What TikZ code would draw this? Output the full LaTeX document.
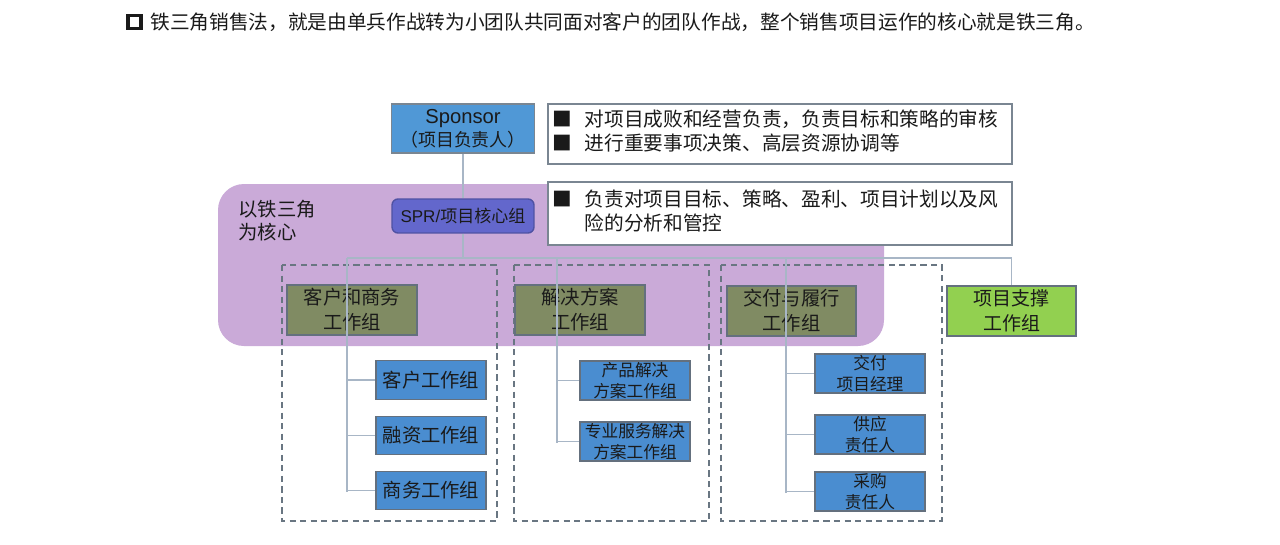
\documentclass[tikz,border=0pt]{standalone}
\usepackage{fontspec}
\setmainfont{Noto Sans CJK SC}
\newfontfamily\lat{Liberation Sans}
\definecolor{purp}{RGB}{202,170,216}
\definecolor{olive}{RGB}{128,139,99}
\definecolor{subblue}{RGB}{74,141,208}
\definecolor{spblue}{RGB}{80,152,214}
\definecolor{sprblue}{RGB}{99,103,204}
\definecolor{supgreen}{RGB}{146,208,80}
\definecolor{boxline}{RGB}{100,112,126}
\definecolor{tbline}{RGB}{122,134,146}
\definecolor{connc}{RGB}{168,182,198}
\definecolor{dashc}{RGB}{105,118,130}
\definecolor{txt}{RGB}{26,26,26}
\begin{document}
\begin{tikzpicture}[x=0.02cm,y=-0.02cm,
  every node/.style={text=txt},
  box/.style={draw=boxline, line width=0.8pt, inner sep=0pt, align=center},
  grpbox/.style={box, fill=olive, minimum width=2.6cm, minimum height=1.0cm, font=\fontsize{11}{14.2}\selectfont},
  subbox/.style={box, fill=subblue, minimum width=2.2cm, minimum height=0.77cm, font=\fontsize{11}{13}\selectfont},
  subsmall/.style={subbox, font=\fontsize{9.5}{11.6}\selectfont},
  tbox/.style={draw=tbline, line width=0.9pt, fill=white, inner xsep=0.08cm, inner ysep=0pt,
    minimum width=9.28cm, text width=9.12cm, align=left, font=\fontsize{11.2}{13.6}\selectfont},
  conn/.style={draw=connc, line width=0.65pt},
  dashbox/.style={draw=dashc, line width=0.8pt, dash pattern=on 3.5pt off 2.5pt}
]
\useasboundingbox (0,0) rectangle (1280,544);
\fill[white] (0,0) rectangle (1280,544);

% header
\node[draw=txt, line width=2pt, minimum size=0.26cm, inner sep=0pt] (sq) at (134.5,22) {};
\node[anchor=west, inner sep=0pt, font=\fontsize{11.2}{13}\selectfont] (hdr) at (150,22)
  {铁三角销售法，就是由单兵作战转为小团队共同面对客户的团队作战，整个销售项目运作的核心就是铁三角。};

% purple core region
\fill[purp, rounded corners=0.52cm] (218,184) rectangle (884,346);

% dashed group frames
\draw[dashbox] (282,265) rectangle (497,521);
\draw[dashbox] (514,265) rectangle (709,521);
\draw[dashbox] (721,265) rectangle (942,521);

% top
\node[box, fill=spblue, draw=tbline, minimum width=2.86cm, minimum height=0.98cm] (sponsor) at (463,128.5)
  {{\lat\fontsize{11.5}{13}\selectfont Sponsor}\\[1pt]{\fontsize{10.2}{12}\selectfont （项目负责人）}};
\node[tbox, minimum height=1.2cm] (tb1) at (780,134)
  {\begin{tabular}{@{}l@{\hspace{7.5pt}}l@{}}
   ■ & 对项目成败和经营负责，负责目标和策略的审核\\
   ■ & 进行重要事项决策、高层资源协调等
   \end{tabular}};

\node[box, fill=sprblue, draw=sprblue!80!black, rounded corners=0.12cm, minimum width=2.84cm, minimum height=0.68cm,
  font=\fontsize{9.7}{11}\selectfont] (spr) at (463,216) {{\lat SPR/}项目核心组};
\node[tbox, minimum height=1.26cm] (tb2) at (780,213.5)
  {\begin{tabular}{@{}l@{\hspace{7.5pt}}l@{}}
   ■ & 负责对项目目标、策略、盈利、项目计划以及风\\
     & 险的分析和管控
   \end{tabular}};

\node[anchor=west, align=left, inner sep=0pt, font=\fontsize{11}{13}\selectfont] (core) at (238,221)
  {以铁三角\\为核心};

% group boxes
\node[grpbox] (g1) at (352,310) {客户和商务\\工作组};
\node[grpbox] (g2) at (580,310) {解决方案\\工作组};
\node[grpbox, minimum width=2.58cm] (g3) at (791.5,311) {交付与履行\\工作组};
\node[grpbox, fill=supgreen, minimum width=2.58cm, font=\fontsize{10.8}{14.2}\selectfont] (g4) at (1011.5,311) {项目支撑\\工作组};

% sub boxes
\node[subbox] (s11) at (431,380) {客户工作组};
\node[subbox] (s12) at (431,435.5) {融资工作组};
\node[subbox] (s13) at (431,490.5) {商务工作组};
\node[subsmall, minimum height=0.78cm] (s21) at (635,380.5) {产品解决\\方案工作组};
\node[subsmall, minimum height=0.78cm] (s22) at (635,441.5) {专业服务解决\\方案工作组};
\node[subsmall, minimum height=0.78cm] (s31) at (870,373.5) {交付\\项目经理};
\node[subsmall, minimum height=0.78cm] (s32) at (870,434.5) {供应\\责任人};
\node[subsmall, minimum height=0.78cm] (s33) at (870,491.5) {采购\\责任人};

% connectors
\coordinate (barS) at (463,258);
\coordinate (bar1) at (347,258);
\coordinate (bar2) at (557,258);
\coordinate (bar3) at (786,258);
\coordinate (bar4) at (1011.5,258);
\coordinate (t1) at (347,492);
\coordinate (t2) at (557,443);
\coordinate (t3) at (786,493);

\draw[conn] (sponsor) -- (spr);
\draw[conn] (spr) -- (barS);
\draw[conn] (bar1) -- (bar4);
\draw[conn] (bar1) -- (t1);
\draw[conn] (bar2) -- (t2);
\draw[conn] (bar3) -- (t3);
\draw[conn] (bar4) -- (g4);

\draw[conn] (s11.west -| t1) -- (s11.west);
\draw[conn] (s12.west -| t1) -- (s12.west);
\draw[conn] (s13.west -| t1) -- (s13.west);
\draw[conn] (s21.west -| t2) -- (s21.west);
\draw[conn] (s22.west -| t2) -- (s22.west);
\draw[conn] (s31.west -| t3) -- (s31.west);
\draw[conn] (s32.west -| t3) -- (s32.west);
\draw[conn] (s33.west -| t3) -- (s33.west);
\end{tikzpicture}
\end{document}
